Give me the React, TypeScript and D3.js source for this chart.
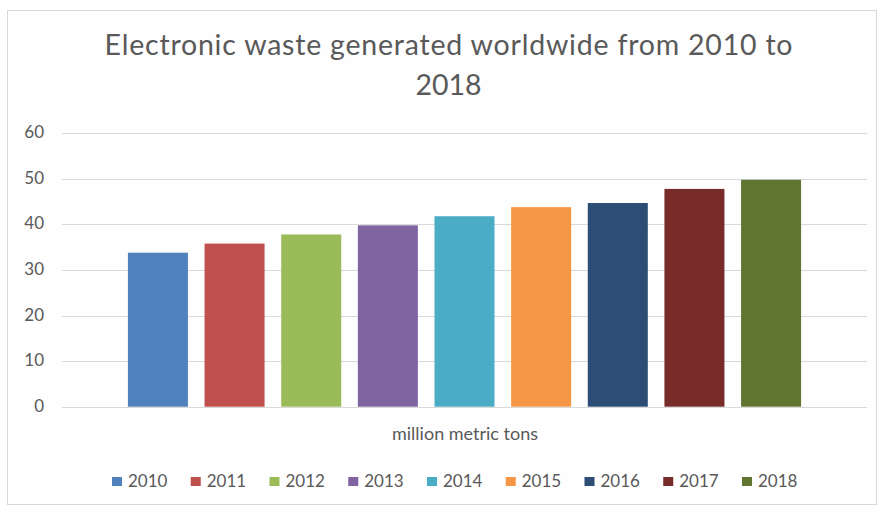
import React from "react";
import * as d3 from "d3";

const years = ["2010", "2011", "2012", "2013", "2014", "2015", "2016", "2017", "2018"];
const values = [33.8, 35.8, 37.8, 39.8, 41.8, 43.8, 44.7, 47.8, 49.8];
const colors = ["#4F81BD", "#C0504D", "#9BBB59", "#8064A2", "#4BACC6", "#F79646", "#2C4D75", "#772C2A", "#5F7530"];
const yTicks = [0, 10, 20, 30, 40, 50, 60];
const titleLines = ["Electronic waste generated worldwide from 2010 to", "2018"];
const axisTitle = "million metric tons";

const W = 883;
const H = 512;
const FONT = "Lato, 'Open Sans', sans-serif";
const TEXT = "#595959";

export default function App() {
  const x = d3.scaleBand<string>().domain(years).range([62, 867]).paddingInner(0.217).paddingOuter(0.86);
  const y = d3.scaleLinear().domain([0, 60]).range([406.7, 133.3]);
  const legendX = d3.scalePoint<string>().domain(years).range([112, 742]);

  return (
    <div style={{ position: "absolute", left: 0, top: 0 }}>
      <svg width={W} height={H} style={{ display: "block", background: "#fff" }}>
        <rect x={7.5} y={10.5} width={869} height={494} fill="#fefefe" stroke="#d9d9d9" />
        <text x={448.5} y={55} textAnchor="middle" fontFamily={FONT} fontSize={28.5} fill={TEXT}
          textLength={688} lengthAdjust="spacing">
          {titleLines[0]}
        </text>
        <text x={448.5} y={95} textAnchor="middle" fontFamily={FONT} fontSize={28.5} fill={TEXT}>
          {titleLines[1]}
        </text>
        {yTicks.map((t) => (
          <g key={t}>
            <line x1={62} x2={867} y1={Math.round(y(t)) + 0.5} y2={Math.round(y(t)) + 0.5} stroke="#d9d9d9" />
            <text x={44} y={y(t) + 5} textAnchor="end" fontFamily={FONT} fontSize={17} fill={TEXT}>
              {t}
            </text>
          </g>
        ))}
        {years.map((yr, i) => (
          <rect key={yr} x={x(yr)} y={y(values[i])} width={x.bandwidth()} height={y(0) - y(values[i])} fill={colors[i]} />
        ))}
        <text x={465} y={440} textAnchor="middle" fontFamily={FONT} fontSize={18} fill={TEXT}>
          {axisTitle}
        </text>
        {years.map((yr, i) => (
          <g key={yr} transform={`translate(${legendX(yr)},487)`}>
            <rect x={0} y={-10} width={10} height={9} fill={colors[i]} />
            <text x={16} y={0} fontFamily={FONT} fontSize={17} fill={TEXT}>
              {yr}
            </text>
          </g>
        ))}
      </svg>
    </div>
  );
}
